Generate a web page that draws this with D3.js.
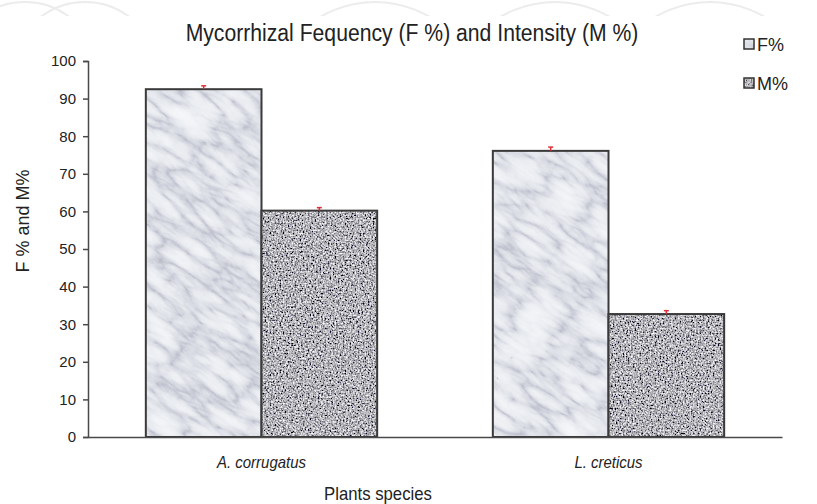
<!DOCTYPE html>
<html>
<head>
<meta charset="utf-8">
<script src="https://cdn.jsdelivr.net/npm/d3@7"></script>
<style>
  body { margin: 0; background: #fff; }
  text { font-family: "Liberation Sans", Arial, sans-serif; }
</style>
</head>
<body>
<svg width="817" height="504"></svg>
<script>
var species = ["A. corrugatus", "L. creticus"];
var seriesNames = ["F%", "M%"];
var fValues = [92.5, 76.1];
var mValues = [60.2, 32.7];
var fErrors = [0.9, 1.0];
var mErrors = [0.8, 0.9];
var yTicks = [0, 10, 20, 30, 40, 50, 60, 70, 80, 90, 100];

var margin = {top: 61, left: 88, right: 35, bottom: 67};
var width = 817, height = 504;

var svg = d3.select("svg");
var defs = svg.append("defs");

// squeeze a text horizontally, the picture uses a narrow face
function narrow(sel, factor) {
    sel.each(function() {
        var len = this.getComputedTextLength();
        d3.select(this)
            .attr("textLength", len * factor)
            .attr("lengthAdjust", "spacingAndGlyphs");
    });
}

// marble texture for F% (turbulence veins, rotated through a pattern)
var marble = defs.append("filter").attr("id", "marbleFx");
marble.append("feTurbulence")
    .attr("type", "turbulence")
    .attr("baseFrequency", "0.02 0.06")
    .attr("numOctaves", 5)
    .attr("seed", 11)
    .attr("result", "t");
marble.append("feColorMatrix")
    .attr("in", "t")
    .attr("type", "matrix")
    .attr("values", "1 0 0 0 0  1 0 0 0 0  1 0 0 0 0  0 0 0 0 1")
    .attr("result", "g");
var mct = marble.append("feComponentTransfer").attr("in", "g");
mct.append("feFuncR").attr("type", "table").attr("tableValues", "0.45 0.68 0.80 0.86 0.90 0.92");
mct.append("feFuncG").attr("type", "table").attr("tableValues", "0.47 0.70 0.82 0.88 0.91 0.93");
mct.append("feFuncB").attr("type", "table").attr("tableValues", "0.55 0.76 0.86 0.91 0.94 0.96");

defs.append("pattern").attr("id", "marble")
    .attr("patternUnits", "userSpaceOnUse")
    .attr("width", 1200).attr("height", 1200)
    .attr("x", -200).attr("y", -400)
    .attr("patternTransform", "rotate(35)")
    .append("rect")
    .attr("width", 1200).attr("height", 1200)
    .attr("fill", "#000")
    .attr("filter", "url(#marbleFx)");

// speckled granite texture for M%
var granite = defs.append("filter").attr("id", "graniteFx");
granite.append("feTurbulence")
    .attr("type", "fractalNoise")
    .attr("baseFrequency", 0.6)
    .attr("numOctaves", 2)
    .attr("seed", 3)
    .attr("result", "t");
granite.append("feColorMatrix")
    .attr("in", "t")
    .attr("type", "matrix")
    .attr("values", "1.9 0 0 0 -0.5  1.9 0 0 0 -0.5  1.9 0 0 0 -0.47  0 0 0 0 1");

defs.append("pattern").attr("id", "granite")
    .attr("patternUnits", "userSpaceOnUse")
    .attr("width", 900).attr("height", 600)
    .append("rect")
    .attr("width", 900).attr("height", 600)
    .attr("fill", "#000")
    .attr("filter", "url(#graniteFx)");

// faint watermark arcs at top
defs.append("clipPath").attr("id", "wmclip").append("rect")
    .attr("x", 0).attr("y", 0).attr("width", width).attr("height", 16);
var wm = svg.append("g")
    .attr("stroke", "#ececec").attr("stroke-width", 2).attr("fill", "none")
    .attr("clip-path", "url(#wmclip)");
[[25, 75], [85, 75], [375, 110], [555, 110], [710, 110]].forEach(function(c) {
    wm.append("circle").attr("cx", c[0]).attr("cy", c[1]).attr("r", c[1] - 2);
});

var x0 = d3.scaleBand()
    .domain(species)
    .range([margin.left, width - margin.right]);
var x1 = d3.scaleBand()
    .domain(seriesNames)
    .range([0, x0.bandwidth()])
    .paddingInner(0)
    .paddingOuter(0.5);
var y = d3.scaleLinear()
    .domain([0, 100])
    .range([height - margin.bottom, margin.top]);

var bars = [];
species.forEach(function(s, i) {
    bars.push({cat: s, series: "F%", value: fValues[i], err: fErrors[i], fill: "url(#marble)"});
    bars.push({cat: s, series: "M%", value: mValues[i], err: mErrors[i], fill: "url(#granite)"});
});

svg.append("g").selectAll("rect")
    .data(bars)
    .enter()
    .append("rect")
    .attr("x", function(d) { return x0(d.cat) + x1(d.series); })
    .attr("y", function(d) { return y(d.value); })
    .attr("width", x1.bandwidth())
    .attr("height", function(d) { return y(0) - y(d.value); })
    .attr("fill", function(d) { return d.fill; })
    .attr("stroke", "#3a3a3a")
    .attr("stroke-width", 2);

// error bars
var errGroup = svg.append("g").attr("stroke", "#e0303a").attr("stroke-width", 1.5);
bars.forEach(function(d) {
    var cx = x0(d.cat) + x1(d.series) + x1.bandwidth() / 2;
    errGroup.append("line")
        .attr("x1", cx).attr("x2", cx)
        .attr("y1", y(d.value + d.err)).attr("y2", y(d.value));
    errGroup.append("line")
        .attr("x1", cx - 2.5).attr("x2", cx + 2.5)
        .attr("y1", y(d.value + d.err)).attr("y2", y(d.value + d.err));
});

// y axis
var yAxis = svg.append("g")
    .attr("transform", "translate(" + margin.left + ",0)")
    .call(d3.axisLeft(y).tickValues(yTicks).tickSize(5).tickPadding(7));
yAxis.selectAll("path, line").attr("stroke", "#4a4a4a").attr("stroke-width", 1.5);
yAxis.selectAll("text").attr("font-size", 15).attr("fill", "#222")
    .style("font-family", "'Liberation Sans', Arial, sans-serif");

// x axis
var xAxis = svg.append("g")
    .attr("transform", "translate(0," + y(0) + ")")
    .call(d3.axisBottom(x0).tickSize(0).tickPadding(19));
xAxis.select("path").attr("stroke", "#4a4a4a").attr("stroke-width", 1.5);
xAxis.selectAll("text").attr("font-size", 17).attr("fill", "#222")
    .attr("font-style", "italic")
    .style("font-family", "'Liberation Sans', Arial, sans-serif")
    .call(narrow, 0.88);

// title and axis titles
svg.append("text")
    .attr("x", 412).attr("y", 41)
    .attr("text-anchor", "middle")
    .attr("font-size", 23)
    .attr("fill", "#222")
    .text("Mycorrhizal Fequency (F %) and Intensity (M %)")
    .call(narrow, 0.92);

svg.append("text")
    .attr("transform", "translate(29,221) rotate(-90)")
    .attr("text-anchor", "middle")
    .attr("font-size", 18)
    .attr("fill", "#222")
    .text("F % and M%");

svg.append("text")
    .attr("x", 378).attr("y", 500)
    .attr("text-anchor", "middle")
    .attr("font-size", 19)
    .attr("fill", "#222")
    .text("Plants species")
    .call(narrow, 0.88);

// legend
var legendFills = ["url(#marble)", "url(#granite)"];
var legend = svg.append("g");
seriesNames.forEach(function(name, i) {
    var ly = 45 + i * 39;
    legend.append("rect")
        .attr("x", 744).attr("y", ly - 6).attr("width", 10).attr("height", 10)
        .attr("fill", legendFills[i])
        .attr("stroke", "#333").attr("stroke-width", 1.5);
    legend.append("text")
        .attr("x", 757).attr("y", ly)
        .attr("dominant-baseline", "central")
        .attr("font-size", 18)
        .attr("fill", "#222")
        .text(name);
});
</script>
</body>
</html>
